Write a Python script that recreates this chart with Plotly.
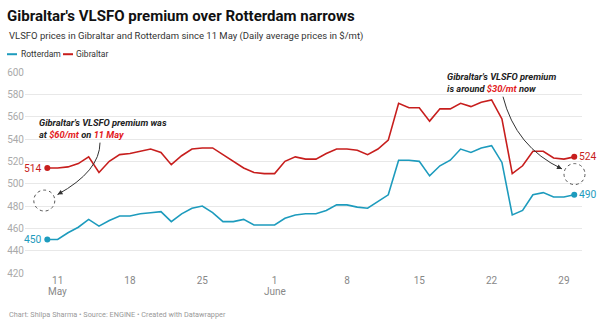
import pandas as pd
import plotly.graph_objects as go

# ---------------- data ----------------
start_date = "2020-05-10"
gibraltar = [514, 514, 515, 518, 524, 510, 520, 526, 527, 529, 531, 528, 517, 525, 531, 532,
             532, 526, 520, 514, 510, 509, 509, 520, 524, 522, 522, 527, 531, 531, 530, 526,
             531, 539, 572, 568, 568, 556, 567, 567, 572, 569, 573, 575, 558, 509, 516, 529,
             529, 523, 522, 524]
rotterdam = [450, 450, 456, 461, 468, 462, 467, 471, 471, 473, 474, 475, 466, 473, 478, 480,
             474, 466, 466, 468, 463, 463, 463, 469, 472, 473, 473, 476, 481, 481, 479, 478,
             484, 490, 521, 521, 520, 507, 516, 521, 531, 528, 532, 534, 519, 472, 476, 490,
             492, 488, 488, 490]
dates = pd.date_range(start_date, periods=len(gibraltar), freq="D")

tick_dates = ["2020-05-11", "2020-05-18", "2020-05-25", "2020-06-01",
              "2020-06-08", "2020-06-15", "2020-06-22", "2020-06-29"]
tick_text = ["11", "18", "25", "1", "8", "15", "22", "29"]
month_dates = ["2020-05-11", "2020-06-01"]
month_text = ["May", "June"]
y_ticks = [420, 440, 460, 480, 500, 520, 540, 560, 580, 600]

RED = "#c71e1d"
TEAL = "#1d9bbd"
ANN_RED = "#e3191c"

# ---------------- layout geometry (pixels) ----------------
W, H = 600, 326
L, R, T, B = 25, 582, 72.3, 273.5


def px(X):
    return (X - L) / (R - L)


def py(Y):
    return (B - Y) / (B - T)


fig = go.Figure()
fig.add_trace(go.Scatter(x=dates, y=rotterdam, mode="lines", name="Rotterdam",
                         line=dict(color=TEAL, width=1.6), hoverinfo="skip"))
fig.add_trace(go.Scatter(x=dates, y=gibraltar, mode="lines", name="Gibraltar",
                         line=dict(color=RED, width=1.6), hoverinfo="skip"))
# end dots
for series, col in ((rotterdam, TEAL), (gibraltar, RED)):
    fig.add_trace(go.Scatter(x=[dates[0], dates[-1]], y=[series[0], series[-1]], mode="markers",
                             marker=dict(color=col, size=6), hoverinfo="skip", showlegend=False))

day = pd.Timedelta(days=1)
x_range = [dates[0] - 2.16 * day, dates[-1] + 0.75 * day]

annotations = []
shapes = []

# month labels under the day ticks
for d, t in zip(month_dates, month_text):
    annotations.append(dict(x=d, xref="x", yref="paper", y=py(292.5), yanchor="middle", text=t,
                            showarrow=False, font=dict(size=10, color="#888888", family="Roboto")))

# value labels at ends
for series, col in ((rotterdam, TEAL), (gibraltar, RED)):
    annotations.append(dict(x=dates[0], y=series[0], xref="x", yref="y", text=str(series[0]),
                            showarrow=False, xanchor="right", xshift=-3,
                            font=dict(size=10.3, color=col, family="Roboto")))
    annotations.append(dict(x=dates[-1], y=series[-1], xref="x", yref="y", text=str(series[-1]),
                            showarrow=False, xanchor="left", xshift=3,
                            font=dict(size=10.3, color=col, family="Roboto")))

# subtitle, legend, footer
annotations.append(dict(xref="paper", yref="paper", x=px(7), y=py(36), xanchor="left", yanchor="middle",
                        text="VLSFO prices in Gibraltar and Rotterdam since 11 May (Daily average prices in $/mt)",
                        showarrow=False, font=dict(size=9.5, color="#333333", family="Roboto")))
annotations.append(dict(xref="paper", yref="paper", x=px(18.5), y=py(54.5), xanchor="left", yanchor="middle",
                        text="Rotterdam", showarrow=False, font=dict(size=8.5, color="#333333", family="Roboto")))
annotations.append(dict(xref="paper", yref="paper", x=px(74), y=py(54.5), xanchor="left", yanchor="middle",
                        text="Gibraltar", showarrow=False, font=dict(size=8.5, color="#333333", family="Roboto")))
shapes.append(dict(type="line", xref="paper", yref="paper", x0=px(7), x1=px(17), y0=py(54.5), y1=py(54.5),
                   line=dict(color=TEAL, width=2)))
shapes.append(dict(type="line", xref="paper", yref="paper", x0=px(63), x1=px(73), y0=py(54.5), y1=py(54.5),
                   line=dict(color=RED, width=2)))
annotations.append(dict(xref="paper", yref="paper", x=px(7), y=py(315), xanchor="left", yanchor="middle",
                        text="Chart: Shilpa Sharma • Source: ENGINE • Created with Datawrapper",
                        showarrow=False, font=dict(size=7.3, color="#999999", family="Roboto")))

# callout texts (one annotation per line for tight line spacing)
callouts = [
    (37, 123.3, "<b><i>Gibraltar's VLSFO premium was</i></b>"),
    (37, 135.0, "<b><i>at <span style='color:%s'>$60/mt</span> on <span style='color:%s'>11 May</span></i></b>"
     % (ANN_RED, ANN_RED)),
    (445, 76.7, "<b><i>Gibraltar's VLSFO premium</i></b>"),
    (445, 88.4, "<b><i>is around <span style='color:%s'>$30/mt</span> now</i></b>" % ANN_RED),
]
for X, Y, txt in callouts:
    annotations.append(dict(xref="paper", yref="paper", x=px(X), y=py(Y), xanchor="left", yanchor="middle",
                            align="left", showarrow=False, text=txt,
                            font=dict(size=9.3, color="#222222", family="Roboto")))


# curved arrows
def curve(s, c, e):
    return "M %f,%f Q %f,%f %f,%f" % (px(s[0]), py(s[1]), px(c[0]), py(c[1]), px(e[0]), py(e[1]))


for s, c, e in (((100, 143), (100, 171.5), (57.5, 195)),
                ((503, 97), (515.7, 147.5), (562, 169.3))):
    shapes.append(dict(type="path", xref="paper", yref="paper", path=curve(s, c, e),
                       line=dict(color="#333333", width=1)))
    dx, dy = c[0] - e[0], c[1] - e[1]
    n = (dx ** 2 + dy ** 2) ** 0.5
    annotations.append(dict(xref="paper", yref="paper", x=px(e[0]), y=py(e[1]), text="",
                            showarrow=True, ax=dx / n * 7, ay=dy / n * 7, arrowhead=2,
                            arrowsize=1, arrowwidth=1, arrowcolor="#333333", standoff=0))

# dashed circles
for cx, cy, r in ((44.3, 201, 10.5), (574.5, 174.5, 10.5)):
    shapes.append(dict(type="circle", xref="paper", yref="paper", x0=px(cx - r), x1=px(cx + r),
                       y0=py(cy + r), y1=py(cy - r), line=dict(color="#555555", width=1, dash="dot")))

fig.update_layout(
    width=W, height=H,
    margin=dict(l=L, r=W - R, t=T, b=H - B, pad=0),
    paper_bgcolor="white", plot_bgcolor="white",
    showlegend=False,
    title=dict(text="<b>Gibraltar's VLSFO premium over Rotterdam narrows</b>", xref="container",
               yref="container", x=7 / W, y=1 - 16 / H, xanchor="left", yanchor="middle",
               font=dict(size=15, color="#111111", family="Roboto")),
    xaxis=dict(range=x_range, tickvals=tick_dates, ticktext=tick_text, showgrid=False, automargin=False,
               zeroline=False, showline=False, ticks="", tickfont=dict(size=10, color="#888888", family="Roboto")),
    yaxis=dict(range=[420, 600], tickvals=y_ticks, showgrid=True, gridcolor="#e8e8e8", gridwidth=1,
               zeroline=False, showline=False, ticks="", automargin=False,
               tickfont=dict(size=10, color="#aaaaaa", family="Roboto")),
    annotations=annotations, shapes=shapes,
)
fig.write_html("out.html")
